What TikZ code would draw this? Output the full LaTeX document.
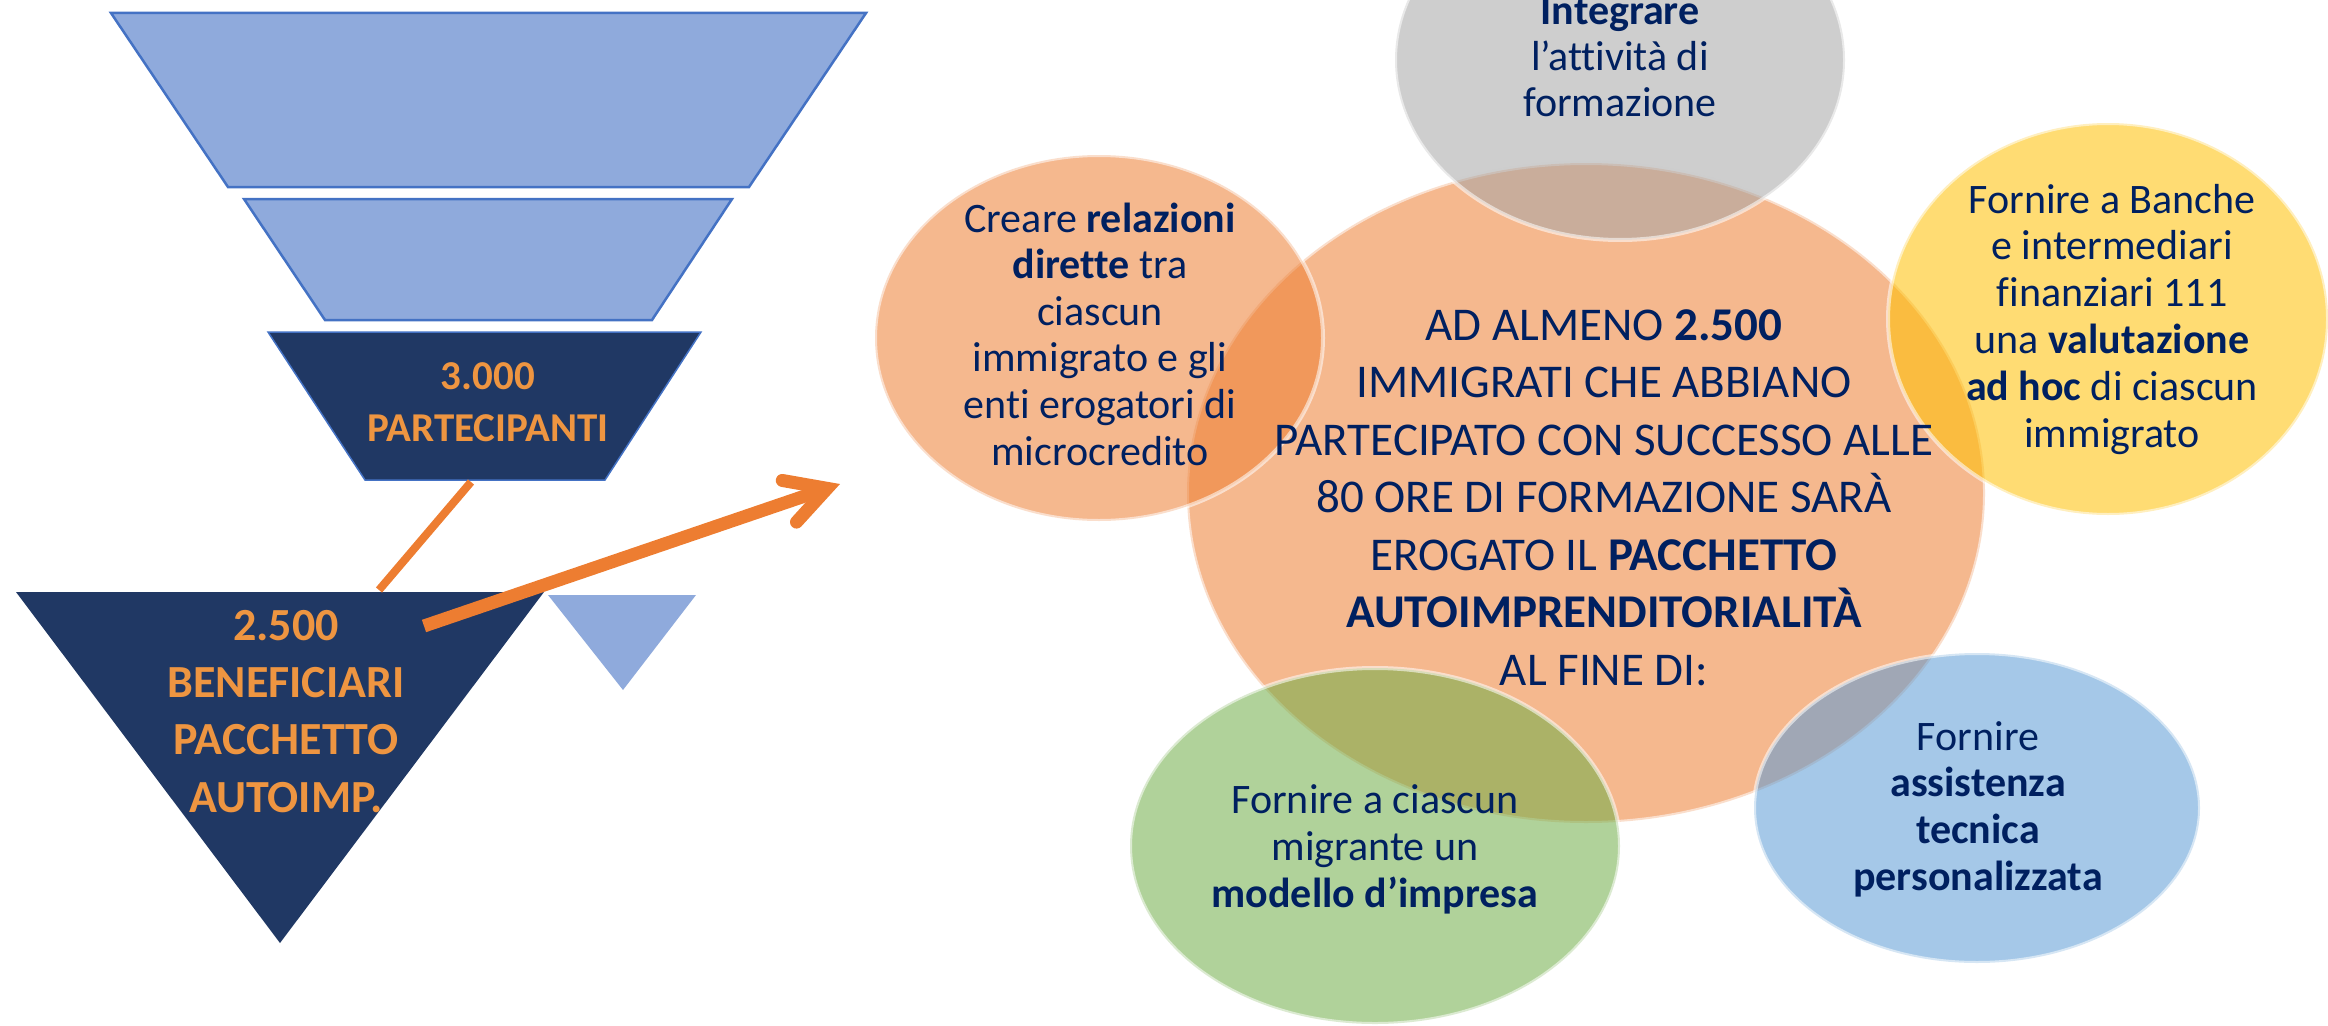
\documentclass[tikz,border=0pt]{standalone}
\usepackage{fontspec}
\setmainfont{Carlito}[Ligatures={NoCommon}]
\usetikzlibrary{arrows.meta,shapes.geometric}
\definecolor{navy}{HTML}{002060}
\definecolor{funlight}{HTML}{8FAADC}
\definecolor{funedge}{HTML}{4472C4}
\definecolor{fundark}{HTML}{203864}
\definecolor{ortxt}{HTML}{EE9541}
\definecolor{orarrow}{HTML}{ED7D31}
\definecolor{cOrange}{HTML}{ED7D31}
\definecolor{cGray}{HTML}{A5A5A5}
\definecolor{cYellow}{HTML}{FFC000}
\definecolor{cGreen}{HTML}{70AD47}
\definecolor{cBlue}{HTML}{5B9BD5}
\newcommand{\mlines}[1]{\begin{tabular}[t]{@{}c@{}}#1\end{tabular}}
\begin{document}
\begin{tikzpicture}[x=1pt,y=-1pt,
  bubble/.style={ellipse, inner sep=0pt, fill=#1, fill opacity=0.55,
    draw=white, draw opacity=0.55, line width=4pt},
  lightpart/.style={fill=funlight, draw=funedge, line width=2.5pt, line join=miter},
  darkpart/.style={fill=fundark, draw=funedge, line width=1.5pt},
  funtext/.style={anchor=base, text=ortxt, inner sep=0pt},
  bubtext/.style={anchor=base, text=navy, inner sep=0pt, font=\fontsize{42}{46.7}\selectfont},
  link/.style={draw=orarrow, line width=8pt},
  bigarrow/.style={draw=orarrow, line width=13pt,
    -{Straight Barb[length=40pt,width=44pt,line cap=round]}}
]
\useasboundingbox (0,0) rectangle (2328,1025);
\clip (0,0) rectangle (2328,1025);

% funnel
\path[lightpart] (111,13) -- (866,13) -- (749,187) -- (228,187) -- cycle;
\path[lightpart] (244,199) -- (732,199) -- (652,320) -- (325,320) -- cycle;
\path[darkpart] (268,332) -- (701,332) -- (605,480) -- (365,480) -- cycle;
\fill[fundark] (16,592) -- (544,592) -- (280,943) -- cycle;
\fill[funlight] (548,595) -- (696,595) -- (623,690) -- cycle;

\coordinate (trapBot) at (471,482);
\coordinate (triTop) at (379,590);
\coordinate (arrStart) at (424,626);
\coordinate (arrTip) at (840,484);

\node[funtext, font=\fontsize{41}{52}\selectfont\bfseries] (t3000) at (488,389)
  {\mlines{3.000\\PARTECIPANTI}};
\node[funtext, font=\fontsize{46}{57.4}\selectfont\bfseries] (t2500) at (286,640)
  {\mlines{2.500\\BENEFICIARI\\PACCHETTO\\AUTOIMP.}};

\draw[link] (triTop) -- (trapBot);
\draw[bigarrow] (arrStart) -- (arrTip);

% bubbles
\node[bubble=cOrange, minimum width=798pt, minimum height=660pt] (cmain) at (1586,493) {};
\node[bubble=cOrange, minimum width=448pt, minimum height=366pt] (cleft) at (1099,338) {};
\node[bubble=cGray, minimum width=450pt, minimum height=360pt] (ctop) at (1620,60) {};
\node[bubble=cYellow, minimum width=440pt, minimum height=392pt] (cright) at (2108,319) {};
\node[bubble=cGreen, minimum width=490pt, minimum height=356pt] (cgreen) at (1375,846) {};
\node[bubble=cBlue, minimum width=446pt, minimum height=310pt] (cblue) at (1977,808) {};

% bubble texts
\node[bubtext, font=\fontsize{42}{46}\selectfont] (ttop) at (1620,25)
  {\mlines{\textbf{Integrare}\\l’attività di\\formazione}};
\node[bubtext, font=\fontsize{42}{46.6}\selectfont] (tleft) at (1100,232)
  {\mlines{Creare \textbf{relazioni}\\\textbf{dirette} tra\\ciascun\\immigrato e gli\\enti erogatori di\\microcredito}};
\node[bubtext, font=\fontsize{47}{57.5}\selectfont] (tmain) at (1604,340)
  {\mlines{AD ALMENO \textbf{2.500}\\IMMIGRATI CHE ABBIANO\\PARTECIPATO CON SUCCESSO ALLE\\80 ORE DI FORMAZIONE SARÀ\\EROGATO IL \textbf{PACCHETTO}\\\textbf{AUTOIMPRENDITORIALITÀ}\\AL FINE DI:}};
\node[bubtext, font=\fontsize{42}{46.8}\selectfont] (tright) at (2112,213)
  {\mlines{Fornire a Banche\\e intermediari\\finanziari 111\\una \textbf{valutazione}\\\textbf{ad hoc} di ciascun\\immigrato}};
\node[bubtext, font=\fontsize{42}{47}\selectfont] (tgreen) at (1375,813)
  {\mlines{Fornire a ciascun\\migrante un\\\textbf{modello d’impresa}}};
\node[bubtext, font=\fontsize{42}{46.7}\selectfont] (tblue) at (1978,750)
  {\mlines{Fornire\\\textbf{assistenza}\\\textbf{tecnica}\\\textbf{personalizzata}}};
\end{tikzpicture}
\end{document}
